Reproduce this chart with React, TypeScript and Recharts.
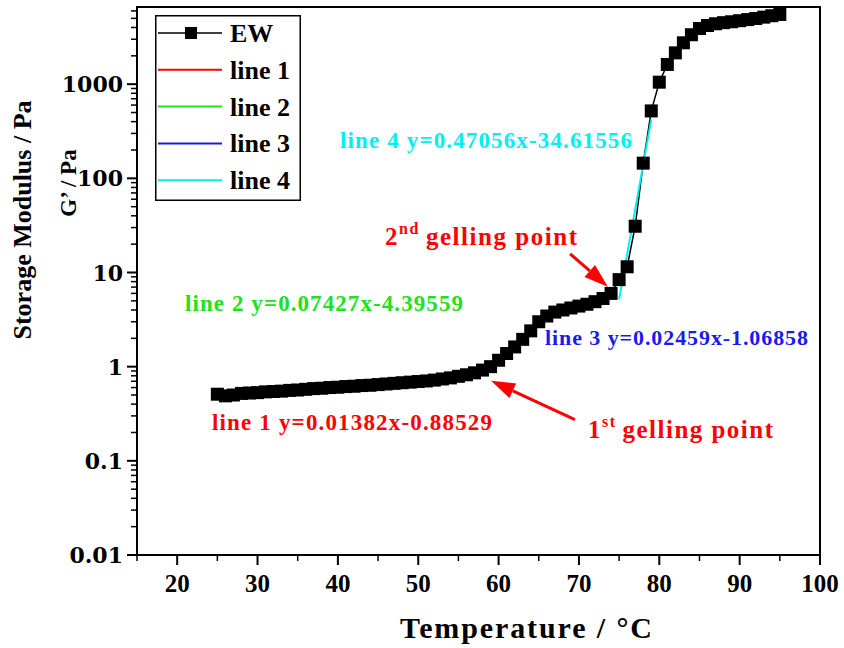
import React from "react";
import { LineChart, Line, XAxis, YAxis, ReferenceLine, ReferenceArea, Legend } from "recharts";

// EW storage modulus vs temperature
const temps = [
  25, 26, 27, 28, 29, 30, 31, 32, 33, 34, 35, 36, 37, 38, 39, 40, 41, 42, 43, 44,
  45, 46, 47, 48, 49, 50, 51, 52, 53, 54, 55, 56, 57, 58, 59, 60, 61, 62, 63, 64,
  65, 66, 67, 68, 69, 70, 71, 72, 73, 74, 75, 76, 77, 78, 79, 80, 81, 82, 83, 84,
  85, 86, 87, 88, 89, 90, 91, 92, 93, 94, 95,
];
const gPrime = [
  0.51, 0.49, 0.5, 0.52, 0.525, 0.53, 0.54, 0.545, 0.55, 0.56, 0.565, 0.575, 0.585, 0.59, 0.6, 0.605, 0.615, 0.62, 0.63, 0.635,
  0.645, 0.655, 0.665, 0.675, 0.685, 0.695, 0.705, 0.72, 0.74, 0.76, 0.79, 0.82, 0.86, 0.92, 1.0, 1.17, 1.38, 1.62, 1.95, 2.4,
  3.0, 3.45, 3.8, 4.0, 4.2, 4.4, 4.6, 4.9, 5.3, 6.0, 8.4, 11.5, 31, 145, 520, 1050, 1620, 2150, 2750, 3350,
  3900, 4200, 4380, 4500, 4600, 4720, 4850, 4980, 5150, 5330, 5500,
];

// fitted segments (end points)
const line1T = [50, 55];
const line1G = [0.639, 0.749];
const line2T = [58.9, 63.8];
const line2G = [0.953, 2.2];
const line3T = [67.9, 72];
const line3G = [3.99, 5.03];
const line4T = [75, 79];
const line4G = [5.2, 420];

const legendNames = ["EW", "line 1", "line 2", "line 3", "line 4"];
const xTicks = [15, 20, 25, 30, 35, 40, 45, 50, 55, 60, 65, 70, 75, 80, 85, 90, 95, 100];
const yMajor = [0.01, 0.1, 1, 10, 100, 1000];
const yLabels = ["0.01", "0.1", "1", "10", "100", "1000"];
const yMinor = yMajor.flatMap((d) => [2, 3, 4, 5, 6, 7, 8, 9].map((m) => m * d)).filter((v) => v < 6600);

const colors = ["#000000", "#ff0000", "#22e022", "#1a1aee", "#00f0f0"];
const serif = "'Liberation Serif', 'Times New Roman', serif";

const pairs = (ts: number[], gs: number[]) => ts.map((t, i) => ({ t, g: gs[i] }));
const ewData = pairs(temps, gPrime);
const fits = [pairs(line1T, line1G), pairs(line2T, line2G), pairs(line3T, line3G), pairs(line4T, line4G)];

const YTick = (props: any) => {
  const { x, y, payload } = props;
  const idx = yMajor.indexOf(payload.value);
  const major = idx >= 0;
  return (
    <g>
      <line x1={x - (major ? 10 : 6)} x2={x} y1={y} y2={y} stroke="#000" strokeWidth={major ? 2 : 1.5} />
      {major && (
        <text x={x - 14} y={y + 8} textAnchor="end" fontFamily="'DejaVu Serif', serif" fontWeight="bold" fontSize={22} fill="#000">
          {yLabels[idx]}
        </text>
      )}
    </g>
  );
};

const XTick = (props: any) => {
  const { x, y, payload } = props;
  const major = payload.value % 10 === 0;
  return (
    <g>
      <line x1={x} x2={x} y1={y} y2={y + (major ? 10 : 6)} stroke="#000" strokeWidth={major ? 2 : 1.5} />
      {major && (
        <text x={x} y={y + 37} textAnchor="middle" fontFamily={serif} fontWeight="bold" fontSize={25} fill="#000">
          {payload.value}
        </text>
      )}
    </g>
  );
};

const Arrow = (props: any) => {
  const { x1, y1, x2, y2 } = props;
  const dx = x2 - x1;
  const dy = y2 - y1;
  const len = Math.hypot(dx, dy) || 1;
  const ux = dx / len;
  const uy = dy / len;
  const hl = 24;
  const hw = 8;
  const bx = x2 - ux * hl;
  const by = y2 - uy * hl;
  return (
    <g>
      <line x1={x1} y1={y1} x2={bx} y2={by} stroke="#ff0000" strokeWidth={3} />
      <polygon points={`${x2},${y2} ${bx - uy * hw},${by + ux * hw} ${bx + uy * hw},${by - ux * hw}`} fill="#ff0000" />
    </g>
  );
};

const renderLegend = () => (
  <svg width={146} height={186} style={{ display: "block" }}>
    <rect x={0.75} y={0.75} width={144.5} height={184.5} fill="#fff" stroke="#000" strokeWidth={1.5} />
    {legendNames.map((n, i) => {
      const cy = 18 + i * 36.8;
      return (
        <g key={n}>
          <line x1={3} x2={67} y1={cy} y2={cy} stroke={colors[i]} strokeWidth={i === 0 ? 1.5 : 2} />
          {i === 0 && <rect x={30} y={cy - 6} width={12} height={12} fill="#000" />}
          <text x={75} y={cy + 9} fontFamily={serif} fontWeight="bold" fontSize={26} fill="#000">
            {n}
          </text>
        </g>
      );
    })}
  </svg>
);

const Square = (props: any) => {
  const { cx, cy, index } = props;
  return <rect key={`sq${index}`} x={cx - 6.5} y={cy - 6.5} width={13} height={13} fill="#000" />;
};

const txt = { fontFamily: serif, fontWeight: "bold" as const };

export default function App() {
  return (
    <div style={{ position: "absolute", left: 0, top: 0, width: 844, height: 648, background: "#fff" }}>
      <LineChart width={844} height={648} margin={{ top: 7, right: 24, bottom: 0, left: 0 }}>
        <XAxis
          dataKey="t"
          type="number"
          domain={[15, 100]}
          ticks={xTicks}
          interval={0}
          height={93}
          tickSize={0}
          tickMargin={0}
          tickLine={false}
          axisLine={{ stroke: "#000", strokeWidth: 2 }}
          tick={<XTick />}
          allowDataOverflow
        />
        <YAxis
          type="number"
          scale="log"
          domain={[0.01, 6600]}
          ticks={[...yMajor, ...yMinor].sort((a, b) => a - b)}
          interval={0}
          width={137}
          tickSize={0}
          tickMargin={0}
          tickLine={false}
          axisLine={{ stroke: "#000", strokeWidth: 2 }}
          tick={<YTick />}
          allowDataOverflow
        />
        <ReferenceArea x1={15} x2={100} y1={0.01} y2={6600} fill="none" stroke="#000" strokeWidth={2} ifOverflow="visible" />
        <Line
          data={ewData}
          dataKey="g"
          name="EW"
          stroke="#000"
          strokeWidth={1.5}
          dot={<Square />}
          activeDot={false}
          isAnimationActive={false}
        />
        {fits.map((d, i) => (
          <Line
            key={`fit${i}`}
            data={d}
            dataKey="g"
            name={legendNames[i + 1]}
            stroke={colors[i + 1]}
            strokeWidth={2}
            dot={false}
            activeDot={false}
            isAnimationActive={false}
          />
        ))}
        <ReferenceLine segment={[{ x: 69.5, y: 0.274 }, { x: 59.06, y: 0.71 }]} shape={Arrow} ifOverflow="visible" />
        <ReferenceLine segment={[{ x: 68.9, y: 15.8 }, { x: 73.6, y: 7.07 }]} shape={Arrow} ifOverflow="visible" />
        <Legend
          layout="vertical"
          align="center"
          verticalAlign="middle"
          content={renderLegend}
          wrapperStyle={{ left: 155, top: 15, width: 146, height: 186 }}
        />
      </LineChart>
      <svg width={844} height={648} style={{ position: "absolute", left: 0, top: 0, pointerEvents: "none" }}>
        <text {...txt} x={212} y={430} fontSize={23} fill={colors[1]} textLength={280} lengthAdjust="spacing">
          line 1 y=0.01382x-0.88529
        </text>
        <text {...txt} x={185} y={311} fontSize={23} fill={colors[2]} textLength={278} lengthAdjust="spacing">
          line 2 y=0.07427x-4.39559
        </text>
        <text {...txt} x={545} y={345} fontSize={22} fill={colors[3]} textLength={263} lengthAdjust="spacing">
          line 3 y=0.02459x-1.06858
        </text>
        <text {...txt} x={340} y={148} fontSize={23} fill={colors[4]} textLength={292} lengthAdjust="spacing">
          line 4 y=0.47056x-34.61556
        </text>
        <text {...txt} x={385} y={245} fontSize={25} fill="#ff0000" textLength={192} lengthAdjust="spacing">
          2
          <tspan fontSize={16} dy={-11}>nd</tspan>
          <tspan dy={11} dx={6}>gelling point</tspan>
        </text>
        <text {...txt} x={588} y={438} fontSize={25} fill="#ff0000" textLength={185} lengthAdjust="spacing">
          1
          <tspan fontSize={16} dy={-11}>st</tspan>
          <tspan dy={11} dx={6}>gelling point</tspan>
        </text>
        <text {...txt} x={400} y={638} fontSize={30} fill="#000" textLength={252} lengthAdjust="spacing">
          Temperature / °C
        </text>
        <text {...txt} fontSize={26} fill="#000" textAnchor="middle" transform="translate(31,220) rotate(-90)">
          Storage Modulus / Pa
        </text>
        <text {...txt} fontSize={23} fill="#000" textAnchor="middle" transform="translate(76,183) rotate(-90)">
          G’ / Pa
        </text>
      </svg>
    </div>
  );
}
